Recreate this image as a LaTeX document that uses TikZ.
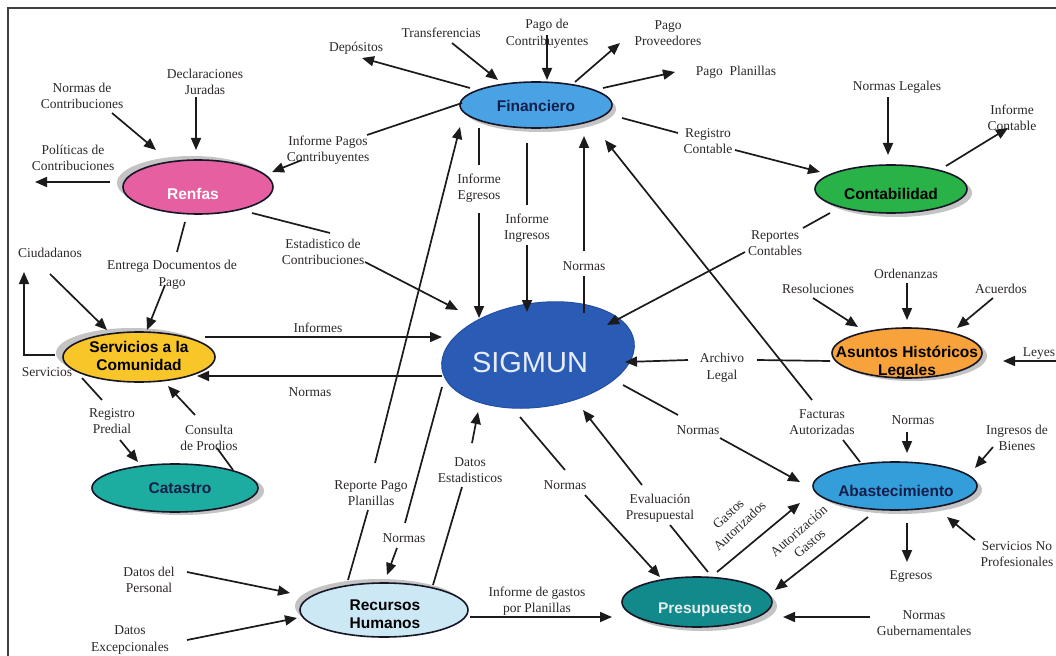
\documentclass[tikz,border=0pt]{standalone}
\usepackage{fontspec}
\setmainfont{Liberation Serif}
\newfontfamily\blobfont{Liberation Sans}
\usetikzlibrary{arrows.meta,shapes.geometric,shadows,calc}

\definecolor{ink}{RGB}{28,26,28}
\definecolor{labelink}{RGB}{45,40,40}
\definecolor{rimink}{RGB}{22,22,38}
\definecolor{shadowgray}{RGB}{196,196,196}
\definecolor{finblue}{RGB}{72,162,228}
\definecolor{renpink}{RGB}{230,95,160}
\definecolor{congreen}{RGB}{40,178,72}
\definecolor{seryellow}{RGB}{248,198,40}
\definecolor{sigblue}{RGB}{42,92,182}
\definecolor{asuorange}{RGB}{247,162,58}
\definecolor{catteal}{RGB}{28,172,160}
\definecolor{ababblue}{RGB}{52,158,218}
\definecolor{recblue}{RGB}{205,232,245}
\definecolor{preteal}{RGB}{18,138,140}
\definecolor{navytext}{RGB}{20,30,75}

\tikzset{
  lbl/.style={font=\fontsize{13.5}{16.5}\selectfont, text=labelink, align=center, inner sep=1pt},
  blob/.style={ellipse, draw=rimink, line width=1.6pt, inner sep=0pt},
  dropsh/.style 2 args={drop shadow={shadow xshift=#1, shadow yshift=#2, fill=shadowgray, opacity=1}},
  btxt/.style={font=\blobfont\bfseries\fontsize{15.5}{18}\selectfont, align=center, inner sep=0pt},
  ln/.style={draw=ink, line width=1.7pt},
  arr/.style={draw=ink, line width=1.7pt, -{Triangle[length=12pt,width=10pt]}},
  frame/.style={draw=black!75, line width=1.2pt}
}

\begin{document}
\begin{tikzpicture}[x=1pt,y=-1pt]
\useasboundingbox (0,0) rectangle (1056,655);
\fill[white] (0,0) rectangle (1056,655);
\draw[frame] (8,665) -- (8,8) -- (1066,8);

% ---------- process ellipses ----------
\node[blob, minimum width=152, minimum height=46, fill=finblue, dropsh={4pt}{-4pt}] (fin) at (536,105) {};
\node[btxt, text=navytext] (fin-t) at (536,106) {Financiero};

\node[blob, minimum width=150, minimum height=54, fill=renpink, dropsh={-6pt}{4pt}] (ren) at (198,187) {};
\node[btxt, text=white] (ren-t) at (193,194) {Renfas};

\node[blob, minimum width=152, minimum height=48, fill=congreen, dropsh={5pt}{-4pt}] (con) at (891,189) {};
\node[btxt, text=black] (con-t) at (891,194) {Contabilidad};

\node[blob, minimum width=152, minimum height=50, fill=seryellow, dropsh={-7pt}{4pt}] (ser) at (139,357) {};
\node[btxt, text=black] (ser-t) at (139,356) {Servicios a la\\Comunidad};

\node[ellipse, rotate=8, minimum width=194, minimum height=104, inner sep=0pt,
      fill=sigblue, draw={rgb,255:red,36;green,78;blue,160}, line width=1pt] (sig) at (538,355) {};
\node[font=\blobfont\fontsize{29}{32}\selectfont, text={rgb,255:red,232;green,236;blue,246}, inner sep=0pt] (sig-t) at (530,363) {SIGMUN};

\node[blob, minimum width=150, minimum height=50, fill=asuorange, dropsh={5pt}{-3pt}] (asu) at (907,353) {};
\node[btxt, text=black] (asu-t) at (907,362) {Asuntos Históricos\\Legales};

\node[blob, minimum width=166, minimum height=48, fill=catteal, dropsh={6pt}{-3pt}] (cat) at (175,488) {};
\node[btxt, text=navytext] (cat-t) at (180,488) {Catastro};

\node[blob, minimum width=164, minimum height=48, fill=ababblue, dropsh={5pt}{-4pt}] (aba) at (895,486) {};
\node[btxt, text=navytext] (aba-t) at (896,491) {Abastecimiento};

\node[blob, minimum width=168, minimum height=54, fill=recblue, dropsh={-5pt}{4pt}] (rec) at (384,610) {};
\node[btxt, text=black] (rec-t) at (385,614) {Recursos\\Humanos};

\node[blob, minimum width=150, minimum height=50, fill=preteal, dropsh={5pt}{-4pt}] (pre) at (697,602) {};
\node[btxt, text={rgb,255:red,228;green,236;blue,236}] (pre-t) at (705,610) {Presupuesto};

% ---------- flow labels ----------
\node[lbl] (dep) at (356,48) {Depósitos};
\node[lbl] (tra) at (441,33) {Transferencias};
\node[lbl] (pdc) at (547,34) {Pago de\\Contribuyentes};
\node[lbl] (ppr) at (668,33) {Pago\\Proveedores};
\node[lbl] (ppl) at (736,72) {Pago\ \ Planillas};
\node[lbl] (rco) at (708,141) {Registro\\Contable};
\node[lbl] (nle) at (897,87) {Normas Legales};
\node[lbl] (ico) at (1012,118) {Informe\\Contable};
\node[lbl] (ipc) at (328,150) {Informe Pagos\\Contribuyentes};
\node[lbl] (nco) at (82,96) {Normas de\\Contribuciones};
\node[lbl] (dju) at (205,82) {Declaraciones\\Juradas};
\node[lbl] (pco) at (73,158) {Políticas de\\Contribuciones};
\node[lbl] (eco) at (323,252) {Estadistico de\\Contribuciones};
\node[lbl] (edp) at (172,275) {Entrega Documentos de\\Pago};
\node[lbl] (ciu) at (50,253) {Ciudadanos};
\node[lbl] (srv) at (47,372) {Servicios};
\node[lbl] (inf) at (318,328) {Informes};
\node[lbl] (nor1) at (310,392) {Normas};
\node[lbl] (rpr) at (112,421) {Registro\\Predial};
\node[lbl] (cpr) at (209,438) {Consulta\\de Prodios};
\node[lbl] (ieg) at (479,188) {Informe\\Egresos};
\node[lbl] (iin) at (527,228) {Informe\\Ingresos};
\node[lbl] (nor2) at (584,266) {Normas};
\node[lbl] (fau) at (822,422) {Facturas\\Autorizadas};
\node[lbl] (rcn) at (775,243) {Reportes\\Contables};
\node[lbl] (res) at (818,289) {Resoluciones};
\node[lbl] (ord) at (906,274) {Ordenanzas};
\node[lbl] (acu) at (1001,289) {Acuerdos};
\node[lbl] (ley) at (1039,354) {Leyes};
\node[lbl] (arl) at (722,368) {Archivo\\Legal};
\node[lbl] (nor3) at (698,430) {Normas};
\node[lbl] (nor4) at (913,420) {Normas};
\node[lbl] (ibi) at (1017,438) {Ingresos de\\Bienes};
\node[lbl] (snp) at (1017,554) {Servicios No\\Profesionales};
\node[lbl] (egr) at (911,577) {Egresos};
\node[lbl] (ngu) at (924,623) {Normas\\Gubernamentales};
\node[lbl, rotate=41] (agas) at (804,537) {Autorización\\Gastos};
\node[lbl, rotate=43] (gaut) at (734,520) {Gastos\\Autorizados};
\node[lbl] (evp) at (660,508) {Evaluación\\Presupuestal};
\node[lbl] (nor5) at (565,485) {Normas};
\node[lbl] (des) at (470,470) {Datos\\Estadisticos};
\node[lbl] (rpp) at (371,493) {Reporte Pago\\Planillas};
\node[lbl] (nor6) at (404,538) {Normas};
\node[lbl] (igp) at (537,601) {Informe de gastos\\por Planillas};
\node[lbl] (dpe) at (149,580) {Datos del\\Personal};
\node[lbl] (dex) at (130,640) {Datos\\Excepcionales};

\coordinate (svcout) at (24,272);

% ---------- Financiero ----------
\draw[arr] ($(fin.center)+(-66,-17)$) -- ($(dep.center)+(6,10)$);
\draw[arr] ($(tra.center)+(11,10)$) -- ($(fin.center)+(-38,-25)$);
\draw[arr] ($(pdc.center)+(0,1)$) -- ($(fin.center)+(11,-25)$);
\draw[arr] ($(fin.center)+(39,-23)$) -- ($(ppr.center)+(-48,10)$);
\draw[arr] ($(fin.center)+(67,-17)$) -- ($(ppl.center)+(-61,0)$);
\draw[ln]  ($(fin.center)+(86,13)$) -- ($(rco.center)+(-30,-8)$);
\draw[arr] ($(rco.center)+(27,9)$) -- ($(con.center)+(-71,-17)$);
\draw[ln]  ($(fin.center)+(-74,-2)$) -- ($(ipc.center)+(39,-15)$);
\draw[arr] ($(ipc.center)+(-26,10)$) -- ($(ren.center)+(74,-15)$);
\draw[ln]  ($(fin.center)+(-57,23)$) -- ($(ieg.center)+(0,-23)$);
\draw[arr] ($(ieg.center)+(0,25)$) -- ($(sig.center)+(-59,-37)$);
\draw[ln]  ($(fin.center)+(-9,38)$) -- ($(iin.center)+(0,-23)$);
\draw[arr] ($(iin.center)+(0,17)$) -- ($(sig.center)+(-11,-43)$);
\draw[ln]  ($(sig.center)+(46,-42)$) -- ($(nor2.center)+(0,10)$);
\draw[arr] ($(nor2.center)+(0,-15)$) -- ($(fin.center)+(48,31)$);

% ---------- Contabilidad ----------
\draw[arr] ($(nle.center)+(-9,10)$) -- ($(con.center)+(-3,-34)$);
\draw[arr] ($(con.center)+(55,-23)$) -- ($(ico.center)+(-4,10)$);
\draw[ln]  ($(con.center)+(-61,24)$) -- ($(rcn.center)+(28,-15)$);
\draw[arr] ($(rcn.center)+(-30,9)$) -- ($(sig.center)+(69,-30)$);

% ---------- Rentas ----------
\draw[arr] ($(nco.center)+(30,17)$) -- ($(ren.center)+(-42,-37)$);
\draw[arr] ($(dju.center)+(-9,15)$) -- ($(ren.center)+(-2,-37)$);
\draw[arr] ($(ren.center)+(-88,-5)$) -- ($(pco.center)+(-38,24)$);
\draw[ln]  ($(ren.center)+(54,26)$) -- ($(eco.center)+(7,-19)$);
\draw[arr] ($(eco.center)+(42,10)$) -- ($(sig.center)+(-80,-45)$);
\draw[ln]  ($(ren.center)+(-13,35)$) -- ($(edp.center)+(5,-23)$);
\draw[arr] ($(edp.center)+(-7,10)$) -- ($(ser.center)+(8,-27)$);

% ---------- Servicios a la Comunidad / Catastro ----------
\draw[arr] ($(ciu.center)+(0,21)$) -- ($(ser.center)+(-32,-27)$);
\draw[arr] ($(ser.center)+(-84,-2)$) -| (svcout);
\draw[arr] ($(ser.center)+(66,-20)$) -- ($(sig.center)+(-96,-18)$);
\draw[arr] ($(sig.center)+(-96,21)$) -- ($(ser.center)+(58,19)$);
\draw[ln]  ($(ser.center)+(-57,21)$) -- ($(rpr.center)+(-10,-21)$);
\draw[arr] ($(rpr.center)+(8,19)$) -- ($(cat.center)+(-37,-26)$);
\draw[ln]  ($(cat.center)+(58,-18)$) -- ($(cpr.center)+(8,10)$);
\draw[arr] ($(cpr.center)+(-14,-23)$) -- ($(ser.center)+(29,29)$);

% ---------- Asuntos Historicos Legales ----------
\draw[arr] ($(res.center)+(-5,9)$) -- ($(asu.center)+(-49,-26)$);
\draw[arr] ($(ord.center)+(1,9)$) -- ($(asu.center)+(0,-33)$);
\draw[arr] ($(acu.center)+(-8,9)$) -- ($(asu.center)+(50,-25)$);
\draw[arr] ($(ley.center)+(17,7)$) -- ($(asu.center)+(96,8)$);
\draw[ln]  ($(asu.center)+(-77,8)$) -- ($(arl.center)+(35,-8)$);
\draw[arr] ($(arl.center)+(-34,-8)$) -- ($(sig.center)+(87,7)$);

% ---------- Abastecimiento ----------
\draw[ln]  ($(aba.center)+(-35,-24)$) -- ($(fau.center)+(21,18)$);
\draw[arr] ($(fau.center)+(-10,-22)$) -- ($(fin.center)+(69,35)$);
\draw[ln]  ($(sig.center)+(85,30)$) -- ($(nor3.center)+(-20,-15)$);
\draw[arr] ($(nor3.center)+(22,8)$) -- ($(aba.center)+(-95,-4)$);
\draw[arr] ($(nor4.center)+(-6,12)$) -- ($(aba.center)+(12,-33)$);
\draw[arr] ($(ibi.center)+(-24,9)$) -- ($(aba.center)+(80,-18)$);
\draw[arr] ($(snp.center)+(-42,-14)$) -- ($(aba.center)+(52,31)$);
\draw[arr] ($(aba.center)+(12,37)$) -- ($(egr.center)+(-4,-15)$);
\draw[arr] ($(aba.center)+(-27,31)$) -- ($(pre.center)+(78,-12)$);

% ---------- Presupuesto ----------
\draw[arr] ($(ngu.center)+(-54,-6)$) -- ($(pre.center)+(86,15)$);
\draw[arr] ($(pre.center)+(20,-30)$) -- ($(aba.center)+(-95,17)$);
\draw[ln]  ($(pre.center)+(11,-30)$) -- ($(evp.center)+(10,17)$);
\draw[arr] ($(evp.center)+(-18,-23)$) -- ($(sig.center)+(45,55)$);
\draw[ln]  ($(sig.center)+(-18,62)$) -- ($(nor5.center)+(0,-15)$);
\draw[arr] ($(nor5.center)+(20,10)$) -- ($(pre.center)+(-37,-25)$);

% ---------- Recursos Humanos ----------
\draw[ln]  ($(rec.center)+(49,-25)$) -- ($(des.center)+(-8,17)$);
\draw[arr] ($(des.center)+(2,-27)$) -- ($(sig.center)+(-60,57)$);
\draw[ln]  ($(rec.center)+(-36,-30)$) -- ($(rpp.center)+(-3,17)$);
\draw[arr] ($(rpp.center)+(4,-30)$) -- ($(fin.center)+(-76,22)$);
\draw[ln]  ($(sig.center)+(-96,32)$) -- ($(nor6.center)+(1,-15)$);
\draw[arr] ($(nor6.center)+(-7,10)$) -- ($(rec.center)+(3,-35)$);
\draw[arr] ($(rec.center)+(86,7)$) -- ($(pre.center)+(-85,15)$);
\draw[arr] ($(dpe.center)+(38,-8)$) -- ($(rec.center)+(-94,-17)$);
\draw[arr] ($(dex.center)+(57,0)$) -- ($(rec.center)+(-87,8)$);
\end{tikzpicture}
\end{document}
